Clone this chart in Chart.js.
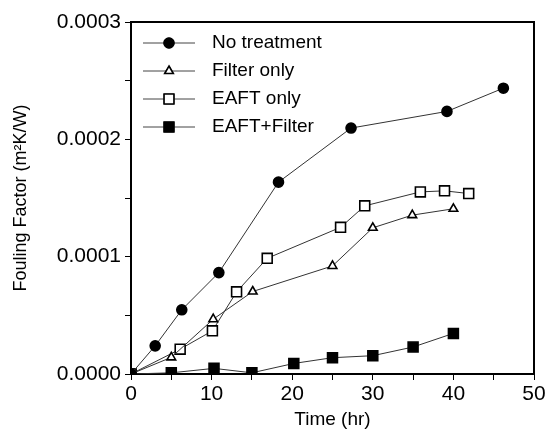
<!DOCTYPE html>
<html>
<head>
<meta charset="utf-8">
<script src="https://cdn.jsdelivr.net/npm/chart.js"></script>
<style>
  html, body { margin: 0; padding: 0; background: #fff; }
</style>
</head>
<body>
<canvas id="foulingChart" width="548" height="431"></canvas>
<script>
// valeurs (temps en h, facteur d'encrassement en m2K/W)
const noTreatTime = [0, 3.0, 6.3, 10.9, 18.3, 27.3, 39.2, 46.2];
const noTreatFouling = [0, 0.000024, 0.0000547, 0.0000864, 0.0001635, 0.0002096, 0.0002238, 0.0002436];

const filterTime = [0, 5.0, 10.2, 15.1, 25.0, 30.0, 34.9, 40.0];
const filterFouling = [0, 0.0000142, 0.0000467, 0.0000703, 0.0000921, 0.0001246, 0.0001354, 0.0001408];

const eaftTime = [0, 6.1, 10.1, 13.1, 16.9, 26.0, 29.0, 35.9, 38.9, 41.9];
const eaftFouling = [0, 0.0000212, 0.0000368, 0.00007, 0.0000986, 0.000125, 0.0001433, 0.0001552, 0.0001561, 0.0001538];

const eaftFilterTime = [0, 5.0, 10.3, 15.0, 20.2, 25.0, 30.0, 35.0, 40.0];
const eaftFilterFouling = [0, 0.000001, 0.0000048, 0.000001, 0.000009, 0.0000139, 0.0000156, 0.000023, 0.0000346];

const seriesNames = ['No treatment', 'Filter only', 'EAFT only', 'EAFT+Filter'];

const xTicks = [0, 10, 20, 30, 40, 50];
const yTicks = [0, 0.0001, 0.0002, 0.0003];

const FONT = "'Liberation Sans', Arial, sans-serif";

function toPoints(xs, ys) {
    return xs.map((x, i) => ({ x: x, y: ys[i] }));
}

// style de chaque série (marqueurs)
const styles = [
    { pointStyle: 'circle', radius: 5, bg: '#000' },
    { pointStyle: 'triangle', radius: 5, bg: '#fff' },
    { pointStyle: 'rect', radius: 7, bg: '#fff' },
    { pointStyle: 'rect', radius: 7, bg: '#000' }
];

const allData = [
    toPoints(noTreatTime, noTreatFouling),
    toPoints(filterTime, filterFouling),
    toPoints(eaftTime, eaftFouling),
    toPoints(eaftFilterTime, eaftFilterFouling)
];

const datasets = allData.map((d, i) => ({
    label: seriesNames[i],
    data: d,
    showLine: true,
    borderColor: '#333',
    borderWidth: 1,
    pointStyle: styles[i].pointStyle,
    pointRadius: styles[i].radius,
    pointBackgroundColor: styles[i].bg,
    pointBorderColor: '#000',
    pointBorderWidth: 1.6,
    fill: false
}));

// cadre + légende dessinés à la main
const framePlugin = {
    id: 'frame',
    afterDraw(chart) {
        const ctx = chart.ctx;
        const a = chart.chartArea;
        ctx.save();
        ctx.strokeStyle = '#000';
        ctx.lineWidth = 2;
        ctx.beginPath();
        ctx.moveTo(a.left, a.top);
        ctx.lineTo(a.right, a.top);
        ctx.lineTo(a.right, a.bottom);
        ctx.stroke();

        // légende
        ctx.font = '19px ' + FONT;
        ctx.textBaseline = 'middle';
        ctx.fillStyle = '#000';
        seriesNames.forEach((name, i) => {
            const y = 43 + i * 28;
            ctx.strokeStyle = '#444';
            ctx.lineWidth = 1;
            ctx.beginPath();
            ctx.moveTo(143, y);
            ctx.lineTo(195, y);
            ctx.stroke();
            Chart.helpers.drawPoint(ctx, {
                pointStyle: styles[i].pointStyle,
                radius: styles[i].radius,
                borderWidth: 1.6
            }, 169, y);
            ctx.fillStyle = styles[i].bg;
            ctx.strokeStyle = '#000';
            ctx.lineWidth = 1.6;
            ctx.fill();
            ctx.stroke();
            ctx.fillStyle = '#000';
            ctx.fillText(name, 212, y);
        });
        ctx.restore();
    }
};

const ctx = document.getElementById('foulingChart').getContext('2d');
const foulingChart = new Chart(ctx, {
    type: 'scatter',
    data: { datasets: datasets },
    options: {
        responsive: false,
        animation: false,
        devicePixelRatio: 1,
        layout: { padding: { top: 22, right: 14, left: 0, bottom: 0 } },
        plugins: {
            legend: { display: false },
            tooltip: { enabled: false }
        },
        scales: {
            x: {
                type: 'linear',
                min: xTicks[0],
                max: xTicks[xTicks.length - 1],
                afterFit: s => { s.height = 57; },
                ticks: {
                    stepSize: 5,
                    color: '#000',
                    padding: 2,
                    maxRotation: 0,
                    font: { family: FONT, size: 21 },
                    callback: v => xTicks.includes(v) ? v : ''
                },
                grid: { drawOnChartArea: false, tickLength: 6, color: '#000' },
                border: { color: '#000', width: 2 },
                title: {
                    display: true,
                    text: 'Time (hr)',
                    color: '#000',
                    font: { family: FONT, size: 19 },
                    padding: { top: 11, bottom: 0 }
                }
            },
            y: {
                min: yTicks[0],
                max: yTicks[yTicks.length - 1],
                afterFit: s => { s.width = 131; },
                ticks: {
                    stepSize: 0.00005,
                    color: '#000',
                    padding: 4,
                    font: { family: FONT, size: 21 },
                    callback: (v, i) => i % 2 === 0 ? v.toFixed(4) : ''
                },
                grid: { drawOnChartArea: false, tickLength: 6, color: '#000' },
                border: { color: '#000', width: 2 },
                title: {
                    display: true,
                    text: 'Fouling Factor (m²K/W)',
                    color: '#000',
                    font: { family: FONT, size: 18 },
                    padding: { top: 10, bottom: 0 }
                }
            }
        }
    },
    plugins: [framePlugin]
});
</script>
</body>
</html>
